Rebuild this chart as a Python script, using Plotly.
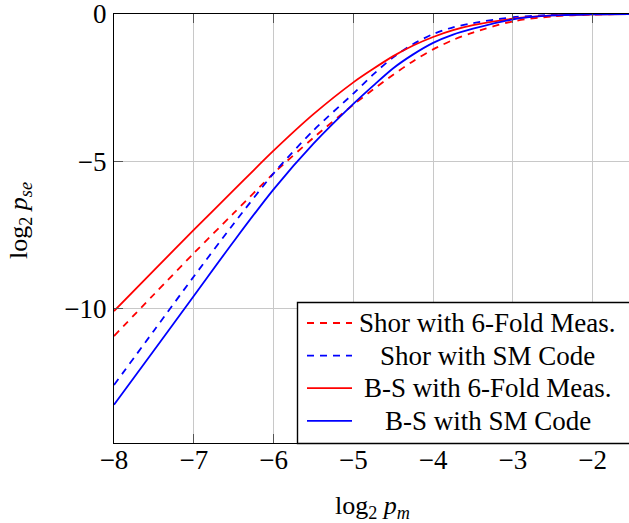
import plotly.graph_objects as go

# log2 p_m sample points
x_vals = [-8, -7.5, -7, -6.5, -6, -5.5, -5, -4.75, -4.5, -4.25, -4, -3.75, -3.5, -3, -2.5, -2, -1.5]

# log2 p_se for each scheme
shor_6fold = [-10.93, -9.52, -8.12, -6.76, -5.41, -4.20, -3.08, -2.56, -2.06, -1.60, -1.20, -0.88, -0.63, -0.25, -0.08, -0.02, 0.0]
shor_sm = [-12.59, -10.75, -8.91, -7.12, -5.41, -3.95, -2.70, -2.05, -1.47, -1.02, -0.68, -0.45, -0.31, -0.11, -0.03, -0.005, 0.0]
bs_6fold = [-10.08, -8.70, -7.33, -5.98, -4.64, -3.40, -2.32, -1.86, -1.43, -1.07, -0.78, -0.55, -0.38, -0.16, -0.05, -0.01, 0.0]
bs_sm = [-13.26, -11.42, -9.57, -7.72, -5.95, -4.40, -3.05, -2.43, -1.84, -1.37, -0.98, -0.70, -0.50, -0.18, -0.05, -0.01, 0.0]

x_ticks = [-8, -7, -6, -5, -4, -3, -2]
y_ticks = [-10, -5, 0]

series_names = ["Shor with 6-Fold Meas.", "Shor with SM Code", "B-S with 6-Fold Meas.", "B-S with SM Code"]
series_values = [shor_6fold, shor_sm, bs_6fold, bs_sm]
series_colors = ["#ff0000", "#0000ff", "#ff0000", "#0000ff"]
series_dash = ["7px,6px", "7px,6px", "solid", "solid"]

W, H = 629, 523
ML, MR, MT, MB = 114, 0, 14, 80
PW, PH = W - ML - MR, H - MT - MB
font_family = "Liberation Serif, Times New Roman, serif"


def px_to_paper_x(px):
    return (px - ML) / PW


def px_to_paper_y(py):
    return (H - MB - py) / PH


fig = go.Figure()
for name, ys, color, dash in zip(series_names, series_values, series_colors, series_dash):
    fig.add_trace(go.Scatter(
        x=x_vals, y=ys, mode="lines", name=name, showlegend=False,
        line=dict(color=color, width=1.8, dash=dash, shape="spline", smoothing=0.8),
    ))

# legend box (pgfplots style, text centred), drawn in paper coordinates
shapes = [dict(type="rect", xref="paper", yref="paper",
               x0=px_to_paper_x(297.5), x1=px_to_paper_x(660),
               y0=px_to_paper_y(443.5), y1=px_to_paper_y(302.5),
               line=dict(color="black", width=1.4), fillcolor="white", layer="above")]
annotations = []
row_y0, row_step = 323.0, 32.6
for i, (name, color, dash) in enumerate(zip(series_names, series_colors, series_dash)):
    cy = row_y0 + i * row_step
    shapes.append(dict(type="line", xref="paper", yref="paper",
                       x0=px_to_paper_x(307), x1=px_to_paper_x(352),
                       y0=px_to_paper_y(cy), y1=px_to_paper_y(cy),
                       line=dict(color=color, width=1.8, dash=dash), layer="above"))
    annotations.append(dict(text=name, xref="paper", yref="paper",
                            x=px_to_paper_x(487.5), y=px_to_paper_y(cy),
                            xanchor="center", yanchor="middle", showarrow=False,
                            font=dict(family=font_family, size=27, color="black")))

annotations += [
    dict(text="log<sub>2</sub> <i>p</i><sub><i>m</i></sub>", xref="paper", yref="paper",
         x=px_to_paper_x(372), y=px_to_paper_y(507), xanchor="center", yanchor="middle",
         showarrow=False, font=dict(family=font_family, size=26)),
    dict(text="log<sub>2</sub> <i>p</i><sub><i>se</i></sub>", xref="paper", yref="paper",
         x=px_to_paper_x(20), y=px_to_paper_y(221), xanchor="center", yanchor="middle",
         showarrow=False, textangle=-90, font=dict(family=font_family, size=26)),
]

fig.update_layout(
    width=W, height=H,
    margin=dict(l=ML, r=MR, t=MT, b=MB, autoexpand=False),
    plot_bgcolor="white", paper_bgcolor="white",
    font=dict(family=font_family, size=27, color="black"),
    showlegend=False,
    xaxis=dict(
        range=[-8, -1.545], tickvals=x_ticks, ticks="inside", ticklen=9,
        tickcolor="#555555", showgrid=True, gridcolor="#c8c8c8", gridwidth=1,
        showline=True, linecolor="black", linewidth=1.2, mirror="ticks",
        zeroline=False, ticklabelstandoff=-8, ticklabeloverflow="allow",
        tickfont=dict(family=font_family, size=27),
    ),
    yaxis=dict(
        range=[-14.56, 0], tickvals=y_ticks, ticks="inside", ticklen=9,
        tickcolor="#555555", showgrid=True, gridcolor="#c8c8c8", gridwidth=1,
        showline=True, linecolor="black", linewidth=1.2, mirror=False,
        zeroline=False, ticklabelstandoff=1, ticklabeloverflow="allow",
        tickfont=dict(family=font_family, size=27),
    ),
    shapes=shapes,
    annotations=annotations,
)

fig.write_html("out.html", config={"displayModeBar": False},
               post_script="document.body.style.margin='0px';")
